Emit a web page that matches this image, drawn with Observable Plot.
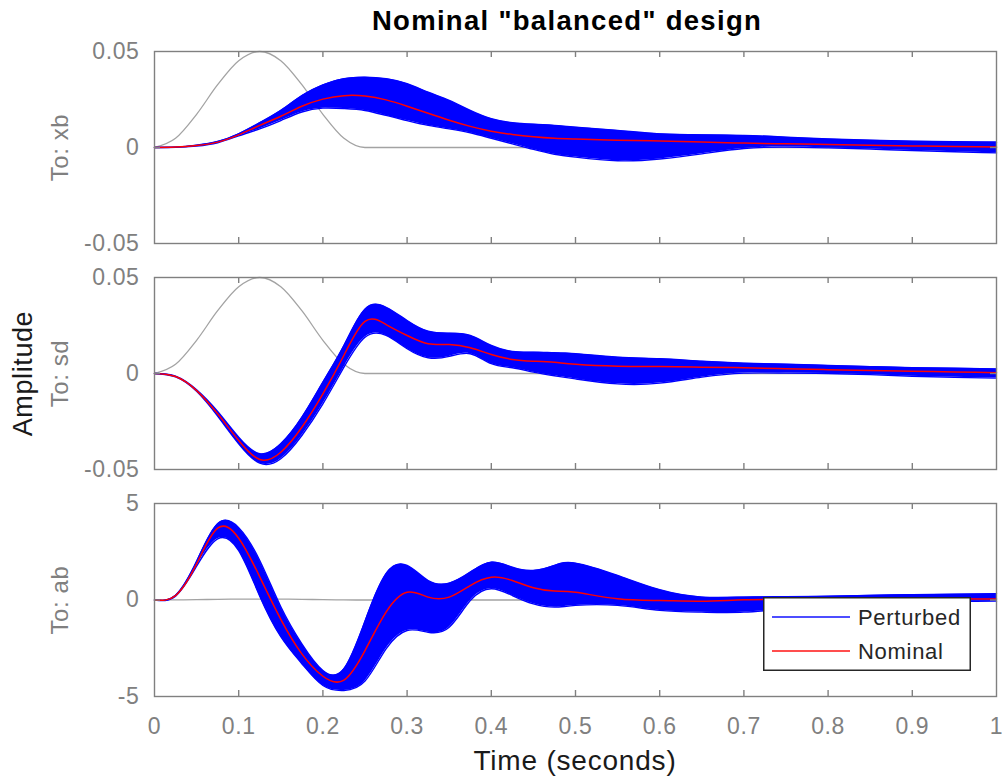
<!DOCTYPE html>
<html><head><meta charset="utf-8">
<script src="https://cdn.jsdelivr.net/npm/d3@7"></script>
<script src="https://cdn.jsdelivr.net/npm/@observablehq/plot@0.6"></script>
<style>
body{margin:0;background:#fff;}
#fig{position:relative;width:1002px;height:781px;font-family:"Liberation Sans",Arial,Helvetica,sans-serif;overflow:hidden;background:#fff;}
.abs{position:absolute;}
#fig svg{position:absolute;left:0;}
</style></head><body><div id="fig"></div>
<script>
// ---- data ----
const time = [0,0.025,0.05,0.075,0.1,0.125,0.15,0.175,0.2,0.225,0.25,0.275,0.3,0.325,0.35,0.375,0.4,0.425,0.45,0.475,0.5,0.55,0.6,0.65,0.7,0.75,0.8,0.85,0.9,0.95,1.0];
// road disturbance (gray)
const road = [0,0.0048,0.0173,0.0327,0.0452,0.05,0.0452,0.0327,0.0173,0.0048,0,0,0,0,0,0,0,0,0,0,0,0,0,0,0,0,0,0,0,0,0];
// To: xb
const xbNominal = [0,0.0002,0.001,0.0028,0.0066,0.0115,0.0163,0.0215,0.0252,0.027,0.0268,0.0248,0.0215,0.0178,0.0142,0.011,0.0085,0.0068,0.0056,0.0048,0.0044,0.0038,0.0034,0.0028,0.0023,0.0019,0.0016,0.0012,0.0008,0.0005,0.0002];
const xbUpper = [0,0.0002,0.0012,0.0031,0.0071,0.0129,0.0193,0.027,0.0326,0.0358,0.0366,0.0358,0.0332,0.0288,0.0245,0.0193,0.015,0.0129,0.0121,0.0115,0.0106,0.0089,0.0071,0.0066,0.0063,0.0054,0.0044,0.0038,0.0033,0.003,0.0028];
const xbLower = [0,0.0001,0.0008,0.0025,0.0061,0.0097,0.014,0.0185,0.0205,0.0203,0.0193,0.0167,0.014,0.0115,0.0097,0.0077,0.0048,0.0019,-0.001,-0.0035,-0.005,-0.0069,-0.006,-0.0033,-0.0005,0.0002,-0.0002,-0.0008,-0.0016,-0.0022,-0.0028];
// To: sd
const sdNominal = [0,-0.0016,-0.0089,-0.021,-0.0349,-0.0448,-0.041,-0.028,-0.0106,0.0095,0.0272,0.0255,0.0198,0.0155,0.0151,0.0134,0.0099,0.0073,0.0064,0.0058,0.0048,0.0038,0.0036,0.0033,0.003,0.0025,0.002,0.0016,0.0012,0.0008,0.0004];
const sdUpper = [0,-0.0014,-0.0085,-0.0198,-0.0332,-0.0418,-0.0366,-0.0228,-0.0045,0.0146,0.0335,0.0345,0.0276,0.022,0.021,0.0198,0.0146,0.0115,0.0111,0.0108,0.0103,0.0085,0.0077,0.0064,0.0054,0.0048,0.0042,0.0036,0.003,0.0027,0.0024];
const sdLower = [0,-0.0018,-0.0093,-0.0222,-0.0366,-0.0467,-0.0444,-0.0323,-0.0158,0.0033,0.0189,0.0198,0.0129,0.0082,0.0089,0.0103,0.0051,0.003,0.0007,-0.0012,-0.0028,-0.0054,-0.005,-0.0019,0.0002,0.0002,0,-0.0006,-0.0014,-0.002,-0.0024];
// To: ab
const abNominal = [0,0.23,1.87,3.72,3.2,1.2,-1.0,-2.79,-3.95,-4.15,-2.62,-0.63,0.4,0.15,0.15,0.75,1.18,1.01,0.63,0.46,0.4,0.06,-0.03,-0.06,0.01,0.03,0.05,0.06,0.06,0.06,0.05];
const abUpper = [0,0.25,2.0,3.95,3.75,2.05,-0.35,-2.27,-3.65,-3.56,-1.1,1.36,1.79,1.01,0.87,1.44,1.96,1.7,1.53,1.79,1.91,1.27,0.53,0.15,0.15,0.17,0.2,0.24,0.28,0.3,0.32];
const abLower = [0,0.2,1.75,3.17,2.56,0.2,-1.9,-3.3,-4.43,-4.69,-4.2,-2.53,-1.58,-1.67,-1.41,-0.03,0.58,0.23,-0.2,-0.37,-0.28,-0.28,-0.54,-0.63,-0.63,-0.45,-0.3,-0.2,-0.1,-0.07,-0.06];

const xTickValues = [0,0.1,0.2,0.3,0.4,0.5,0.6,0.7,0.8,0.9,1];
const xTickLabels = ["0","0.1","0.2","0.3","0.4","0.5","0.6","0.7","0.8","0.9","1"];
const smallTicks = [-0.05,0,0.05];
const smallTickLabels = ["-0.05","0","0.05"];
const abTicks = [-5,0,5];
const abTickLabels = ["-5","0","5"];
const panelLabels = ["To: xb","To: sd","To: ab"];
const titleText = 'Nominal "balanced" design';
const yTitle = "Amplitude";
const xTitle = "Time (seconds)";
const legendLabels = ["Perturbed","Nominal"];

// ---- drawing ----
const FONT = '"Liberation Sans", Arial, Helvetica, sans-serif';
const GRAY = "#808080";
const fig = document.getElementById("fig");
const W = 1002, ML = 154, MR = 6;
const FW = W - ML - MR;

const panels = [
  {label: panelLabels[0], nominal: xbNominal, upper: xbUpper, lower: xbLower, domain: [-0.05,0.05], ticks: smallTicks, tickLabels: smallTickLabels, top: 51, bottom: 243},
  {label: panelLabels[1], nominal: sdNominal, upper: sdUpper, lower: sdLower, domain: [-0.05,0.05], ticks: smallTicks, tickLabels: smallTickLabels, top: 277, bottom: 469, amp: true},
  {label: panelLabels[2], nominal: abNominal, upper: abUpper, lower: abLower, domain: [-5,5], ticks: abTicks, tickLabels: abTickLabels, top: 503, bottom: 696, last: true}
];

panels.forEach(p => {
  const rows = time.map((t,k) => ({t, road: road[k], nominal: p.nominal[k], upper: p.upper[k], lower: p.lower[k]}));
  const mt = 14, mb = p.last ? 60 : 14;
  const fh = p.bottom - p.top;
  const H = fh + mt + mb;
  const curve = "natural";
  const marks = [
    Plot.lineY(rows, {x: "t", y: "road", stroke: "#a3a3a3", strokeWidth: 1.3, curve: "monotone-x"}),
    Plot.areaY(rows, {x: "t", y1: "lower", y2: "upper", fill: "#0000ff", curve}),
    Plot.lineY(rows, {x: "t", y: "upper", stroke: "#0000ff", strokeWidth: 1.4, curve}),
    Plot.lineY(rows, {x: "t", y: "lower", stroke: "#0000ff", strokeWidth: 1.4, curve}),
    Plot.lineY(rows, {x: "t", y: "nominal", stroke: "#ff0000", strokeWidth: 1.5, curve}),
    Plot.frame({stroke: GRAY, strokeWidth: 1.4}),
    Plot.tickX(xTickValues.slice(1,-1), {x: d => d, stroke: GRAY, strokeWidth: 1.4, insetTop: fh - 6}),
    Plot.tickX(xTickValues.slice(1,-1), {x: d => d, stroke: GRAY, strokeWidth: 1.4, insetBottom: fh - 6}),
    Plot.tickY([p.ticks[1]], {y: d => d, stroke: GRAY, strokeWidth: 1.4, insetRight: FW - 6}),
    Plot.tickY([p.ticks[1]], {y: d => d, stroke: GRAY, strokeWidth: 1.4, insetLeft: FW - 6}),
    Plot.axisY({ticks: p.ticks, tickSize: 0, tickPadding: 15, label: null, tickFormat: d => p.tickLabels[p.ticks.indexOf(d)], fill: GRAY, fontSize: 23}),
    Plot.text([p.label], {frameAnchor: "left", dx: -94, rotate: -90, textAnchor: "middle", lineAnchor: "middle", fontSize: 24, fill: GRAY, text: d => d})
  ];
  if (p.amp) marks.push(Plot.text([yTitle], {frameAnchor: "left", dx: -131, rotate: -90, textAnchor: "middle", lineAnchor: "middle", fontSize: 27, fill: "#1a1a1a", text: d => d}));
  if (p.last) marks.push(Plot.axisX({ticks: xTickValues, tickSize: 0, tickPadding: 21, label: null, tickFormat: d => xTickLabels[xTickValues.indexOf(d)], fill: GRAY, fontSize: 23}));
  const svg = Plot.plot({
    width: W, height: H,
    marginLeft: ML, marginRight: MR, marginTop: mt, marginBottom: mb,
    style: {background: "transparent", color: GRAY, fontSize: "23px", fontFamily: FONT, overflow: "visible", letterSpacing: "0.6px"},
    x: {domain: [0,1], axis: null, label: null},
    y: {domain: p.domain, axis: null, label: null},
    marks
  });
  svg.style.position = "absolute";
  svg.style.top = (p.top - mt) + "px";
  svg.style.left = "0px";
  fig.appendChild(svg);
});

// title
const title = document.createElement("div");
title.className = "abs";
Object.assign(title.style, {left: (ML - 8) + "px", width: FW + "px", top: "7px", textAlign: "center", fontSize: "27.5px", lineHeight: "27px", fontWeight: "bold", color: "#000", letterSpacing: "1.3px"});
title.textContent = titleText;
fig.appendChild(title);

// x title
const xt = document.createElement("div");
xt.className = "abs";
Object.assign(xt.style, {left: ML + "px", width: FW + "px", top: "747px", textAlign: "center", fontSize: "28px", lineHeight: "28px", color: "#1a1a1a", letterSpacing: "0.8px"});
xt.textContent = xTitle;
fig.appendChild(xt);

// legend
const lg = document.createElementNS("http://www.w3.org/2000/svg", "svg");
lg.setAttribute("width", 208); lg.setAttribute("height", 74);
Object.assign(lg.style, {position: "absolute", left: "763px", top: "597px", overflow: "visible"});
const legColors = ["#4d4dff", "#ff4d4d"];
let inner = `<rect x="0.75" y="0.75" width="206.5" height="72.5" fill="#fff" stroke="#262626" stroke-width="1.5"/>`;
legendLabels.forEach((lab, i) => {
  const y = 20 + i * 34;
  inner += `<line x1="9" x2="87" y1="${y}" y2="${y}" stroke="${legColors[i]}" stroke-width="2"/>`;
  inner += `<text x="95" y="${y}" dy="0.35em" font-size="22" fill="#262626" font-family='${FONT}' letter-spacing="0.7">${lab}</text>`;
});
lg.innerHTML = inner;
fig.appendChild(lg);
</script>
</body></html>
